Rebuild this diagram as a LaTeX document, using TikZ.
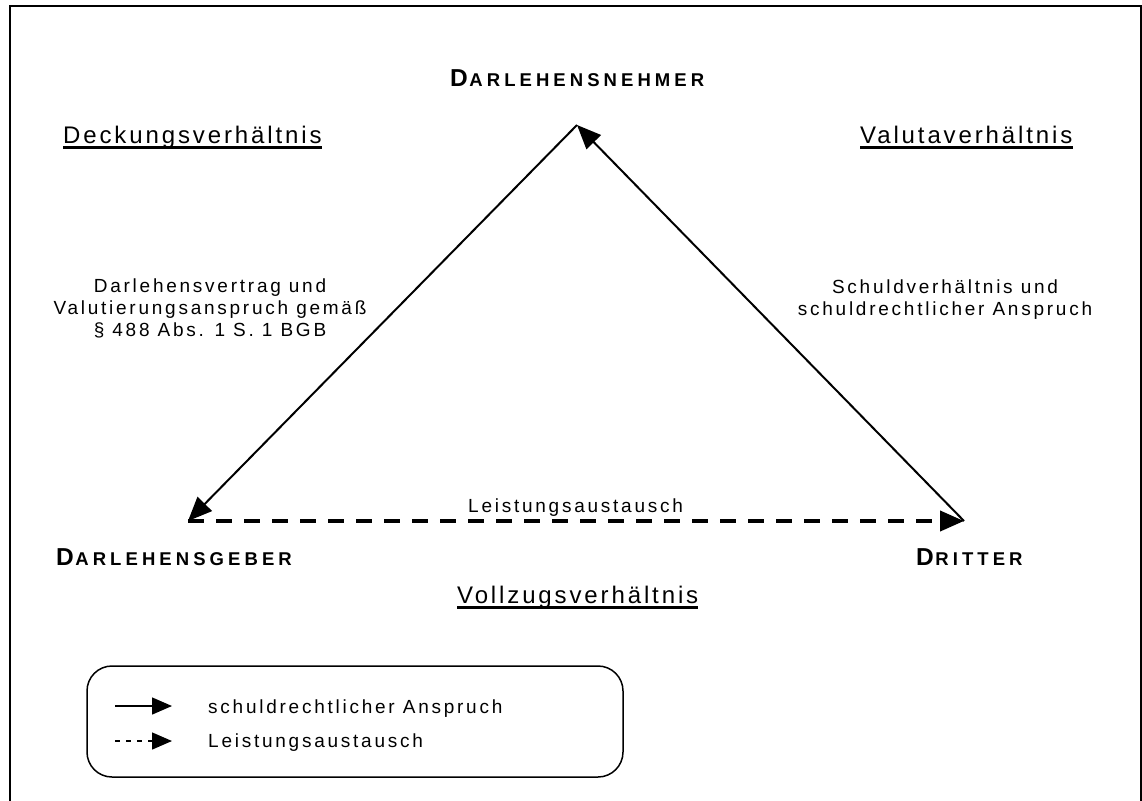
\documentclass[tikz,border=0pt]{standalone}
\usepackage{fontspec}
\setmainfont{Liberation Sans}
\newfontfamily\lblfont[LetterSpace=14.5]{Liberation Sans}
\newfontfamily\headfont[LetterSpace=12]{Liberation Sans}
\newfontfamily\partyfont[LetterSpace=22]{Liberation Sans}
\usetikzlibrary{arrows.meta}

\newcommand\partyinitial[1]{{\fontsize{24.5}{24.5}\selectfont #1}\hspace{1.5pt}}
\newcommand\partyrest[1]{{\fontsize{18.5}{18.5}\selectfont #1}}

\begin{document}
\begin{tikzpicture}[x=1pt,y=-1pt,
  lbl/.style={inner sep=0pt, font=\lblfont\fontsize{19}{22}\selectfont, align=center},
  bodytext/.style={inner sep=0pt, anchor=base west, font=\lblfont\fontsize{19}{22}\selectfont},
  head/.style={inner sep=0pt, anchor=base west, font=\headfont\fontsize{24}{28}\selectfont},
  party/.style={inner sep=0pt, anchor=base west, font=\partyfont\bfseries},
  ul/.style={line width=2.3pt},
  claim/.style={line width=2pt, -{Triangle[length=24pt,width=20pt]}},
  exchange/.style={line width=4pt, dash pattern=on 16pt off 12pt, -{Triangle[length=24pt,width=20pt]}},
  keyclaim/.style={line width=1.4pt, -{Triangle[length=20pt,width=17pt]}},
  keyexchange/.style={line width=1.4pt, dash pattern=on 5pt off 6pt, -{Triangle[length=20pt,width=17pt]}},
]
\clip (0,0) rectangle (1142,800);

% outer frame (runs on below the page)
\draw[line width=2pt] (9.5,6.3) rectangle (1141,840);

% corners of the triangle
\coordinate (nehmer) at (577,125);
\coordinate (geber) at (188,521);
\coordinate (dritter) at (964,521);

% parties
\node[party] (tN) at (450,86.7) {\partyinitial{D}\partyrest{ARLEHENSNEHMER}};
\node[party] (tG) at (56,565.5) {\partyinitial{D}\partyrest{ARLEHENSGEBER}};
\node[party] (tD) at (916,565.5) {\partyinitial{D}\partyrest{RITTER}};

% relations
\node[head] (deck) at (63,143) {Deckungsverhältnis};
\node[head] (valuta) at (860,143) {Valutaverhältnis};
\node[head] (vollzug) at (457,603) {Vollzugsverhältnis};
\foreach \n in {deck,valuta,vollzug}
  \draw[ul] ([yshift=-4.5pt]\n.base west) -- ([yshift=-4.5pt]\n.base east);

% connectors
\draw[claim] (nehmer) -- (geber);
\draw[claim] (dritter) -- (nehmer);
\draw[exchange] (geber) -- (dritter);

% connector labels
\node[lbl] (lLeft) at (210,308) {Darlehensvertrag und\\Valutierungsanspruch gemäß\\§ 488 Abs. 1 S. 1 BGB};
\node[lbl] (lRight) at (945,299.5) {Schuldverhältnis und\\schuldrechtlicher Anspruch};
\node[bodytext] (lBottom) at (468,512.5) {Leistungsaustausch};

% key
\draw[line width=1.5pt, rounded corners=25pt] (87,666) rectangle (623,777);
\coordinate (k1a) at (115,706);
\coordinate (k1b) at (172,706);
\coordinate (k2a) at (115,741);
\coordinate (k2b) at (172,741);
\draw[keyclaim] (k1a) -- (k1b);
\draw[keyexchange] (k2a) -- (k2b);
\node[bodytext] (kt1) at (208,713) {schuldrechtlicher Anspruch};
\node[bodytext] (kt2) at (208,747) {Leistungsaustausch};
\end{tikzpicture}
\end{document}
